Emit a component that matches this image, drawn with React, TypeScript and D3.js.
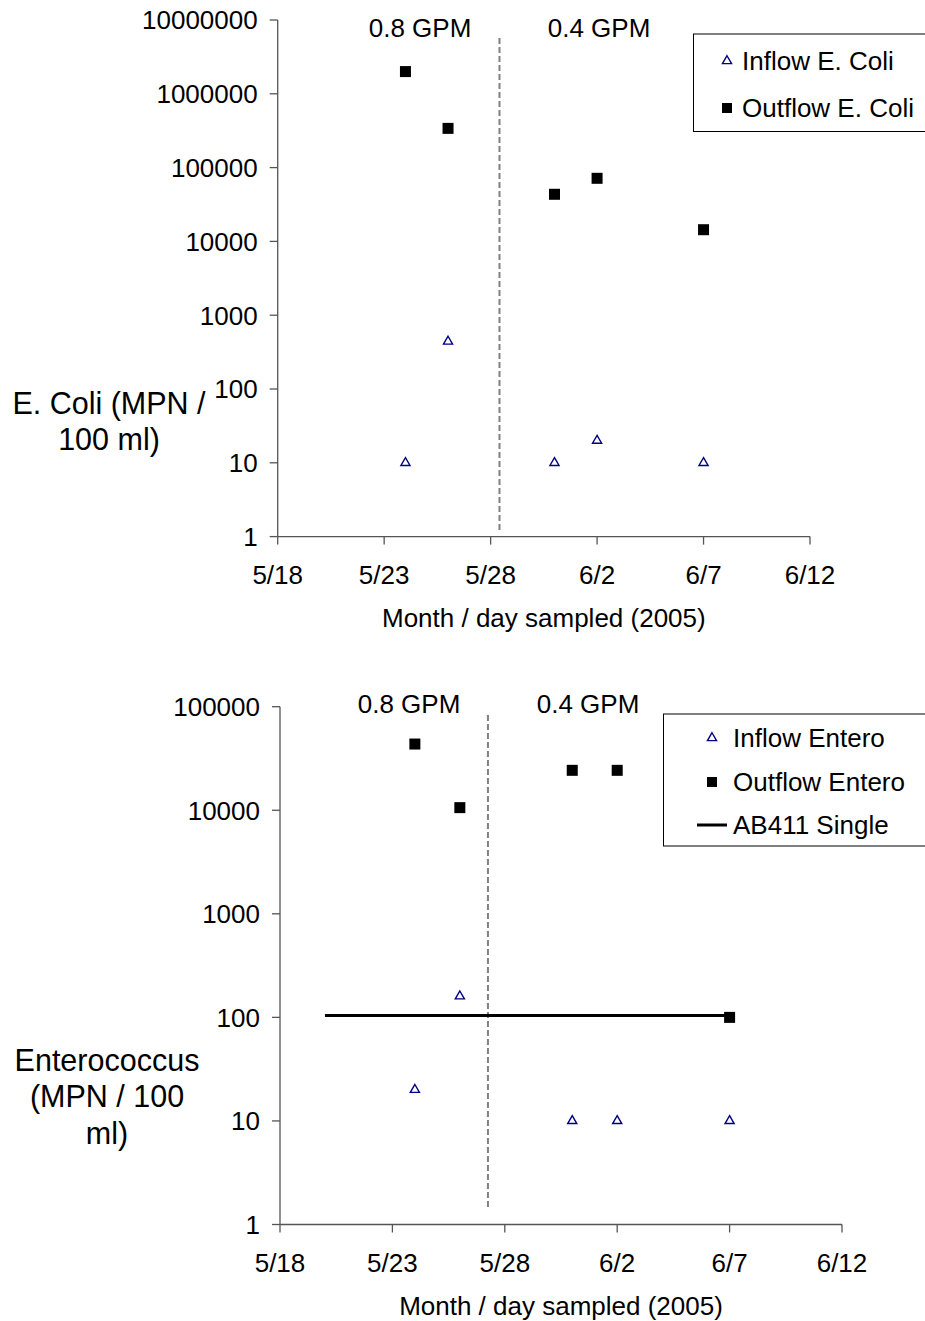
import * as d3 from 'd3';

// sample dates (2005) and values
const sampleDates = ['2005-05-24', '2005-05-26', '2005-05-31', '2005-06-02', '2005-06-07'];
const ecoliInflow = [10, 440, 10, 20, 10];
const ecoliOutflow = [2000000, 340000, 43500, 71600, 14400];
const enteroInflow = [20, 160, 10, 10, 10];
const enteroOutflow = [43600, 10600, 24300, 24300, 100];
const ab411Dates = ['2005-05-20', '2005-06-07'];
const ab411Value = 104;
const xTickDates = ['2005-05-18', '2005-05-23', '2005-05-28', '2005-06-02', '2005-06-07', '2005-06-12'];
const flowLabels = ['0.8 GPM', '0.4 GPM'];

const FONT = '"Liberation Sans", Arial, sans-serif';
const FS = 26;
const NAVY = '#000080';
const AXIS = '#555';

const parse = (s: string) => new Date(s + (s.length > 10 ? 'Z' : 'T00:00:00Z'));
const tickFmt = (d: Date) => `${d.getUTCMonth() + 1}/${d.getUTCDate()}`;

type Cfg = {
  left: number; right: number; top: number; bottom: number;
  yMax: number;
  inflow: number[]; outflow: number[];
  inName: string; outName: string;
  flowChange: string;
  flowLabelX: [number, number]; flowLabelY: number;
  dashTop: number; dashBottom: number;
  yLabel: string[]; yLabelX: number; yLabelY: number;
  legend: { x: number; y: number; h: number; markX: number; textX: number; rows: number[] };
  ab411?: boolean;
};

function triPath() {
  return d3.symbol(d3.symbolTriangle, 36)() as string;
}

function Panel({ c }: { c: Cfg }) {
  const x = d3.scaleUtc()
    .domain([parse(xTickDates[0]), parse(xTickDates[xTickDates.length - 1])])
    .range([c.left, c.right]);
  const y = d3.scaleLog().domain([1, c.yMax]).range([c.bottom, c.top]);
  const yTicks = y.ticks().filter((v) => Math.abs(Math.log10(v) - Math.round(Math.log10(v))) < 1e-9);
  const dates = sampleDates.map(parse);
  const fc = x(parse(c.flowChange));
  const tri = triPath();
  const line = d3.line<[Date, number]>().x((d) => x(d[0])).y((d) => y(d[1]));

  return (
    <g fontFamily={FONT} fontSize={FS}>
      {/* axes */}
      <line x1={c.left} x2={c.left} y1={c.top} y2={c.bottom} stroke={AXIS} strokeWidth={1.3} />
      <line x1={c.left} x2={c.right} y1={c.bottom} y2={c.bottom} stroke={AXIS} strokeWidth={1.3} />
      {yTicks.map((v) => (
        <g key={v}>
          <line x1={c.left - 8} x2={c.left} y1={y(v)} y2={y(v)} stroke={AXIS} strokeWidth={1.3} />
          <text x={c.left - 20} y={y(v)} dy="0.36em" textAnchor="end" fill="#000">{d3.format('d')(v)}</text>
        </g>
      ))}
      {xTickDates.map((s) => {
        const xv = x(parse(s));
        return (
          <g key={s}>
            <line x1={xv} x2={xv} y1={c.bottom} y2={c.bottom + 8} stroke={AXIS} strokeWidth={1.3} />
            <text x={xv} y={c.bottom + 47} textAnchor="middle">{tickFmt(parse(s))}</text>
          </g>
        );
      })}
      <text x={(c.left + c.right) / 2} y={c.bottom + 90} textAnchor="middle">Month / day sampled (2005)</text>
      <text x={c.yLabelX} y={c.yLabelY} textAnchor="middle" fontSize={30.5}>
        {c.yLabel.map((t, i) => (
          <tspan key={i} x={c.yLabelX} dy={i === 0 ? 0 : 36.3}>{t}</tspan>
        ))}
      </text>

      {/* flow change marker */}
      <line x1={fc} x2={fc} y1={c.dashTop} y2={c.dashBottom} stroke="#808080" strokeWidth={2} strokeDasharray="6,3" />
      <text x={c.flowLabelX[0]} y={c.flowLabelY} textAnchor="middle">{flowLabels[0]}</text>
      <text x={c.flowLabelX[1]} y={c.flowLabelY} textAnchor="middle">{flowLabels[1]}</text>

      {c.ab411 && (
        <path d={line(ab411Dates.map((s) => [parse(s), ab411Value]))!} stroke="#000" strokeWidth={3} fill="none" />
      )}

      {/* series */}
      {c.outflow.map((v, i) => (
        <rect key={'o' + i} x={x(dates[i]) - 5.5} y={y(v) - 5.5} width={11} height={11} fill="#000" />
      ))}
      {c.inflow.map((v, i) => (
        <path key={'i' + i} d={tri} transform={`translate(${x(dates[i])},${y(v)})`} fill="none" stroke={NAVY} strokeWidth={1.4} />
      ))}

      {/* legend */}
      <rect x={c.legend.x} y={c.legend.y} width={300} height={c.legend.h} fill="#fff" stroke="#000" strokeWidth={1} />
      <path d={tri} transform={`translate(${c.legend.markX},${c.legend.rows[0]})`} fill="none" stroke={NAVY} strokeWidth={1.4} />
      <text x={c.legend.textX} y={c.legend.rows[0]} dy="0.36em">{c.inName}</text>
      <rect x={c.legend.markX - 5} y={c.legend.rows[1] - 5} width={10} height={10} fill="#000" />
      <text x={c.legend.textX} y={c.legend.rows[1]} dy="0.36em">{c.outName}</text>
      {c.ab411 && (
        <g>
          <line x1={c.legend.markX - 15} x2={c.legend.markX + 15} y1={c.legend.rows[2]} y2={c.legend.rows[2]} stroke="#000" strokeWidth={3} />
          <text x={c.legend.textX} y={c.legend.rows[2]} dy="0.36em">AB411 Single</text>
        </g>
      )}
    </g>
  );
}

const top: Cfg = {
  left: 277.7, right: 810, top: 20, bottom: 536.6, yMax: 1e7,
  inflow: ecoliInflow, outflow: ecoliOutflow,
  inName: 'Inflow E. Coli', outName: 'Outflow E. Coli',
  flowChange: '2005-05-28T10:00:00',
  flowLabelX: [420, 599], flowLabelY: 37,
  dashTop: 38, dashBottom: 532,
  yLabel: ['E. Coli (MPN /', '100 ml)'], yLabelX: 109, yLabelY: 414,
  legend: { x: 693.5, y: 34, h: 97.5, markX: 727, textX: 742, rows: [61, 108] },
};

const bottom: Cfg = {
  left: 280, right: 842, top: 706.7, bottom: 1224.5, yMax: 1e5,
  inflow: enteroInflow, outflow: enteroOutflow,
  inName: 'Inflow Entero', outName: 'Outflow Entero',
  flowChange: '2005-05-27T06:00:00',
  flowLabelX: [409, 588], flowLabelY: 713,
  dashTop: 715, dashBottom: 1208,
  yLabel: ['Enterococcus', '(MPN / 100', 'ml)'], yLabelX: 107, yLabelY: 1071,
  legend: { x: 663.5, y: 714, h: 132, markX: 712, textX: 733, rows: [738, 782, 825] },
  ab411: true,
};

export default function App() {
  return (
    <svg width={925} height={1321} style={{ position: 'absolute', left: 0, top: 0, background: '#fff' }}>
      <rect width={925} height={1321} fill="#fff" />
      <Panel c={top} />
      <Panel c={bottom} />
    </svg>
  );
}
